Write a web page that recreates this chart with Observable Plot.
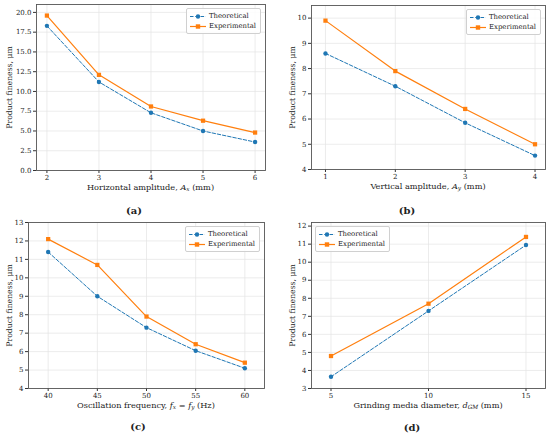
<!DOCTYPE html>
<html>
<head>
<meta charset="utf-8">
<script src="https://cdn.jsdelivr.net/npm/d3@7"></script>
<script src="https://cdn.jsdelivr.net/npm/@observablehq/plot@0.6"></script>
<style>
  body { margin: 0; background: #fff; }
  #wrap { position: relative; width: 550px; height: 434px; background: #fff; font-family: "DejaVu Serif", serif; color: #222; }
  #wrap > svg { position: absolute; }
  .xlab { position: absolute; transform: translate(-50%, -50%); font-size: 8.2px; white-space: nowrap; }
  .xlab sub { font-size: 70%; vertical-align: -0.25em; line-height: 0; }
  .cap { position: absolute; transform: translate(-50%, -50%); font-size: 10px; font-weight: bold; }
  .legend { position: absolute; border: 0.8px solid #d0d0d0; border-radius: 2px; background: rgba(255,255,255,0.85); font-size: 6.9px; padding: 2px 3px 2px 3px; box-sizing: border-box; }
  .legend .row { display: flex; align-items: center; height: 10px; }
  .legend svg { margin-right: 3px; }
</style>
</head>
<body>
<div id="wrap"></div>
<script>
// ---- data ----
const xA = [2, 3, 4, 5, 6];
const theoA = [18.3, 11.2, 7.3, 5.0, 3.6];
const expA = [19.6, 12.1, 8.1, 6.3, 4.8];
const yTicksA = [0, 2.5, 5, 7.5, 10, 12.5, 15, 17.5, 20];

const xB = [1, 2, 3, 4];
const theoB = [8.6, 7.3, 5.85, 4.55];
const expB = [9.9, 7.9, 6.4, 5.0];
const yTicksB = [4, 5, 6, 7, 8, 9, 10];

const xC = [40, 45, 50, 55, 60];
const theoC = [11.4, 9.0, 7.3, 6.05, 5.1];
const expC = [12.1, 10.7, 7.9, 6.4, 5.4];
const yTicksC = [4, 5, 6, 7, 8, 9, 10, 11, 12, 13];

const xD = [5, 10, 15];
const theoD = [3.65, 7.3, 10.95];
const expD = [4.8, 7.7, 11.4];
const yTicksD = [3, 4, 5, 6, 7, 8, 9, 10, 11, 12];

const seriesNames = ["Theoretical", "Experimental"];
const blue = "#1f77b4", orange = "#ff7f0e";

const wrap = document.getElementById("wrap");

function panel(o) {
  const theo = o.xs.map((x, i) => ({x, y: o.theo[i]}));
  const exp = o.xs.map((x, i) => ({x, y: o.exp[i]}));
  const svg = Plot.plot({
    width: o.width, height: o.height,
    marginLeft: o.mL, marginRight: o.mR, marginTop: o.mT, marginBottom: o.mB,
    style: {fontFamily: "DejaVu Serif", fontSize: "7px", color: "#222", background: "transparent", overflow: "visible"},
    x: {domain: o.xDomain},
    y: {domain: o.yDomain},
    marks: [
      Plot.gridX(o.xs, {stroke: "#e4e4e4", strokeOpacity: 1, strokeWidth: 0.7}),
      Plot.gridY(o.yTicks, {stroke: "#e4e4e4", strokeOpacity: 1, strokeWidth: 0.7}),
      Plot.axisX(o.xs, {tickSize: 3, tickPadding: 2, label: null, stroke: "#333"}),
      Plot.axisY(o.yTicks, {tickSize: 3, tickPadding: 2, tickFormat: o.yFormat, stroke: "#333", label: null}),
      Plot.axisY({label: "Product fineness, μm", labelAnchor: "center", labelArrow: "none", labelOffset: o.labelOffset, fontSize: 7.7, ticks: [], tickSize: 0}),
      Plot.line(theo, {x: "x", y: "y", stroke: blue, strokeWidth: 1, strokeDasharray: "3.5,1.8"}),
      Plot.dot(theo, {x: "x", y: "y", fill: blue, r: 2.2, symbol: "circle"}),
      Plot.line(exp, {x: "x", y: "y", stroke: orange, strokeWidth: 1.2}),
      Plot.dot(exp, {x: "x", y: "y", fill: orange, r: 2.4, symbol: "square"}),
      Plot.frame({stroke: "#555", strokeWidth: 0.9})
    ]
  });
  svg.style.left = o.left + "px";
  svg.style.top = o.top + "px";
  wrap.appendChild(svg);

  const fl = o.left + o.mL, fr = o.left + o.width - o.mR, ft = o.top + o.mT, fb = o.top + o.height - o.mB;
  const xl = document.createElement("div");
  xl.className = "xlab";
  xl.innerHTML = o.xLabel;
  xl.style.left = ((fl + fr) / 2) + "px";
  xl.style.top = (fb + 17) + "px";
  wrap.appendChild(xl);

  const cap = document.createElement("div");
  cap.className = "cap";
  cap.textContent = o.caption;
  cap.style.left = o.capX + "px";
  cap.style.top = o.capY + "px";
  wrap.appendChild(cap);

  const lg = document.createElement("div");
  lg.className = "legend";
  lg.style.width = o.legW + "px";
  if (o.legendSide === "right") lg.style.left = (fr - 4 - o.legW) + "px";
  else lg.style.left = (fl + 4) + "px";
  lg.style.top = (ft + 4) + "px";
  const sample = (color, dash, shape) => {
    const m = shape === "circle"
      ? `<circle cx="8" cy="3.5" r="2.2" fill="${color}"/>`
      : `<rect x="5.8" y="1.3" width="4.4" height="4.4" fill="${color}"/>`;
    return `<svg width="16" height="7"><line x1="0" x2="16" y1="3.5" y2="3.5" stroke="${color}" stroke-width="${dash ? 1 : 1.2}" ${dash ? 'stroke-dasharray="3.5,1.8"' : ''}/>${m}</svg>`;
  };
  lg.innerHTML =
    `<div class="row">${sample(blue, true, "circle")}<span>${seriesNames[0]}</span></div>` +
    `<div class="row">${sample(orange, false, "square")}<span>${seriesNames[1]}</span></div>`;
  wrap.appendChild(lg);
}

panel({left: 0, top: 0, width: 275, height: 182, mL: 36, mR: 10, mT: 4, mB: 12,
  xDomain: [1.8, 6.2], yDomain: [0, 21], xs: xA, theo: theoA, exp: expA, yTicks: yTicksA,
  yFormat: d3.format(".1f"), labelOffset: 30, legendSide: "right", legW: 75,
  xLabel: "Horizontal amplitude, <i>A</i><sub><i>x</i></sub> (mm)", caption: "(a)", capX: 134, capY: 210});

panel({left: 275, top: 0, width: 275, height: 182, mL: 36, mR: 5, mT: 5, mB: 13,
  xDomain: [0.8, 4.15], yDomain: [4, 10.5], xs: xB, theo: theoB, exp: expB, yTicks: yTicksB,
  yFormat: d3.format("d"), labelOffset: 22, legendSide: "right", legW: 75,
  xLabel: "Vertical amplitude, <i>A</i><sub><i>y</i></sub> (mm)", caption: "(b)", capX: 407, capY: 210});

panel({left: 0, top: 217, width: 275, height: 183, mL: 28, mR: 11, mT: 5, mB: 12,
  xDomain: [38, 62], yDomain: [4, 13], xs: xC, theo: theoC, exp: expC, yTicks: yTicksC,
  yFormat: d3.format("d"), labelOffset: 22, legendSide: "right", legW: 75,
  xLabel: "Oscillation frequency, <i>f</i><sub><i>x</i></sub> = <i>f</i><sub><i>y</i></sub> (Hz)", caption: "(c)", capX: 138, capY: 426});

panel({left: 275, top: 217, width: 275, height: 183, mL: 36, mR: 5, mT: 5, mB: 12,
  xDomain: [4, 16], yDomain: [3, 12.2], xs: xD, theo: theoD, exp: expD, yTicks: yTicksD,
  yFormat: d3.format("d"), labelOffset: 22, legendSide: "left", legW: 75,
  xLabel: "Grinding media diameter, <i>d</i><sub><i>GM</i></sub> (mm)", caption: "(d)", capX: 412, capY: 427});
</script>
</body>
</html>
